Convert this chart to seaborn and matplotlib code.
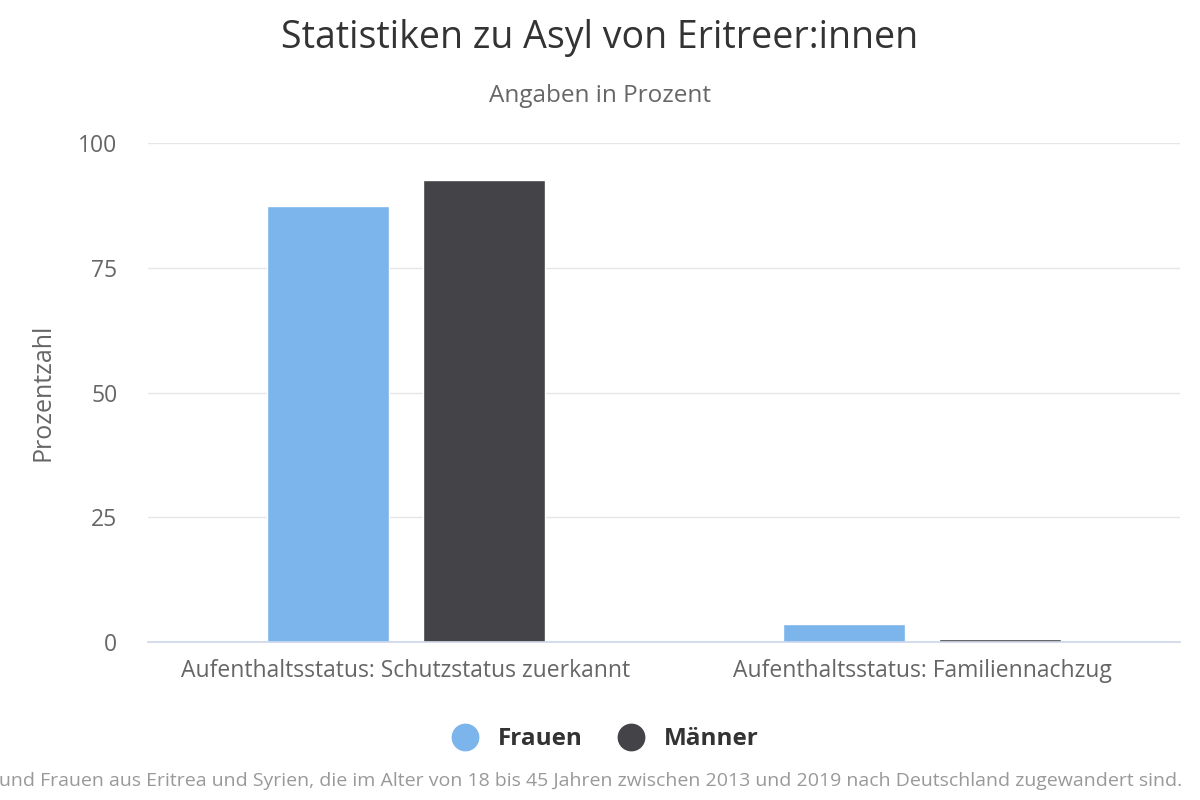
import matplotlib
matplotlib.use("Agg")
import matplotlib.pyplot as plt
from matplotlib.lines import Line2D
import seaborn as sns
import pandas as pd

categories = ["Aufenthaltsstatus: Schutzstatus zuerkannt", "Aufenthaltsstatus: Familiennachzug"]
series_names = ["Frauen", "Männer"]
frauen = [87.4, 3.6]
maenner = [92.6, 0.6]
colors = ["#7cb5ec", "#434348"]
y_ticks = [0, 25, 50, 75, 100]

df = pd.DataFrame({
    "Kategorie": categories * 2,
    "Geschlecht": [series_names[0]] * 2 + [series_names[1]] * 2,
    "Wert": frauen + maenner,
})

sns.set_style("white")
plt.rcParams["font.family"] = ["Open Sans", "DejaVu Sans"]

fig = plt.figure(figsize=(12, 8), dpi=100)
ax = fig.add_axes([0.1233, 0.1975, 0.86, 0.62375])

sns.barplot(data=df, x="Kategorie", y="Wert", hue="Geschlecht",
            palette=colors, width=0.605, gap=0.218, saturation=1,
            legend=False, ax=ax)

ax.set_ylim(0, 100)
ax.set_xlim(-0.5, 1.5)
ax.set_yticks(y_ticks)
ax.set_yticklabels([str(t) for t in y_ticks], fontsize=16.5, color="#666666")
ax.tick_params(axis="x", labelsize=16.5, labelcolor="#666666", length=0, pad=12)
ax.tick_params(axis="y", length=0, pad=22)
ax.yaxis.grid(True, color="#e6e6e6", linewidth=1)
ax.set_axisbelow(True)
for s in ["top", "right", "left"]:
    ax.spines[s].set_visible(False)
ax.spines["bottom"].set_color("#ccd6eb")
ax.spines["bottom"].set_linewidth(1.2)
ax.set_xlabel("")
ax.set_ylabel("Prozentzahl", fontsize=18, color="#666666")
ax.yaxis.set_label_coords(-0.09, 0.5)

fig.text(0.5, 0.953, "Statistiken zu Asyl von Eritreer:innen", ha="center", va="center",
         fontsize=27, color="#333333")
fig.text(0.5, 0.88, "Angaben in Prozent", ha="center", va="center",
         fontsize=17.5, color="#666666")

handles = [Line2D([], [], marker="o", linestyle="", markersize=19,
                  markerfacecolor=c, markeredgecolor=c) for c in colors]
leg = fig.legend(handles, series_names, loc="center", bbox_to_anchor=(0.5, 0.076),
                 ncol=2, frameon=False, handletextpad=0.35, columnspacing=1.0,
                 prop={"size": 17.5, "weight": "bold"})
for t in leg.get_texts():
    t.set_color("#333333")

fig.text(0.985, 0.024,
         "und Frauen aus Eritrea und Syrien, die im Alter von 18 bis 45 Jahren zwischen 2013 und 2019 nach Deutschland zugewandert sind.",
         ha="right", va="center", fontsize=14, color="#999999")

fig.savefig("out.png", dpi=100, facecolor="white")
